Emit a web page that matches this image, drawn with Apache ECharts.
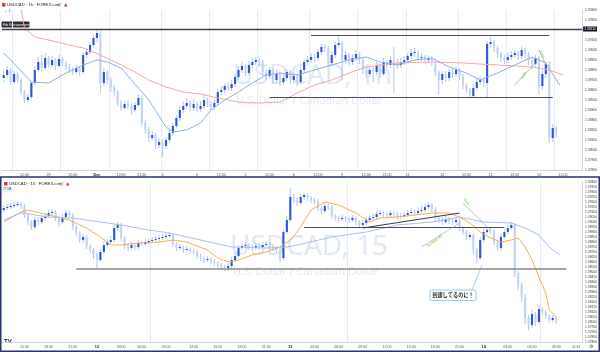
<!DOCTYPE html>
<html><head><meta charset="utf-8">
<script src="https://cdn.jsdelivr.net/npm/echarts@6/dist/echarts.min.js"></script>
<style>html,body{margin:0;padding:0;background:#fff}#c{width:600px;height:352px}</style>
</head><body><div id="c"></div><script>
// ---------- DATA ----------
const N_CAT = 168;
const topOpen0 = 1.3872;
const topClose = [
1.3875,1.3880,1.3868,1.3876,1.3870,1.3858,1.3850,1.3853,1.3867,1.3880,
1.3888,1.3882,1.3892,1.3885,1.3890,1.3884,1.3891,1.3887,1.3883,1.3880,
1.3878,1.3882,1.3878,1.3895,1.3898,1.3905,1.3912,1.3917,1.3867,1.3878,
1.3870,1.3862,1.3858,1.3847,1.3842,1.3846,1.3844,1.3840,1.3845,1.3852,
1.3827,1.3820,1.3812,1.3815,1.3805,1.3808,1.3804,1.3810,1.3817,1.3824,
1.3832,1.3840,1.3844,1.3847,1.3842,1.3846,1.3841,1.3844,1.3850,1.3846,
1.3843,1.3847,1.3858,1.3860,1.3864,1.3862,1.3866,1.3873,1.3880,1.3884,
1.3877,1.3885,1.3888,1.3890,1.3888,1.3878,1.3874,1.3880,1.3870,1.3876,
1.3868,1.3872,1.3878,1.3870,1.3874,1.3868,1.3880,1.3888,1.3890,1.3893,
1.3892,1.3898,1.3903,1.3902,1.3887,1.3895,1.3905,1.3907,1.3890,1.3895,
1.3888,1.3892,1.3896,1.3890,1.3880,1.3876,1.3880,1.3878,1.3884,1.3876,
1.3888,1.3885,1.3890,1.3887,1.3885,1.3888,1.3890,1.3894,1.3897,1.3898,
1.3892,1.3893,1.3890,1.3892,1.3888,1.3878,1.3870,1.3876,1.3872,1.3878,
1.3876,1.3880,1.3874,1.3865,1.3860,1.3854,1.3862,1.3868,1.3870,1.3867,
1.3906,1.3908,1.3902,1.3896,1.3892,1.3890,1.3893,1.3895,1.3897,1.3894,
1.3900,1.3896,1.3890,1.3886,1.3892,1.3864,1.3876,1.3886,1.3812,1.3822,
1.3817];
const topHigh = [
1.3879,1.3884,1.3882,1.3879,1.3878,1.3872,1.3860,1.3856,1.3869,1.3884,
1.3893,1.3895,1.3897,1.3894,1.3894,1.3892,1.3895,1.3893,1.3889,1.3886,
1.3883,1.3885,1.3884,1.3898,1.3902,1.3908,1.3915,1.3921,1.3919,1.3882,
1.3880,1.3873,1.3865,1.3860,1.3850,1.3849,1.3850,1.3847,1.3848,1.3856,
1.3855,1.3830,1.3823,1.3819,1.3817,1.3812,1.3811,1.3813,1.3820,1.3827,
1.3835,1.3844,1.3849,1.3852,1.3850,1.3851,1.3848,1.3849,1.3856,1.3853,
1.3849,1.3851,1.3861,1.3864,1.3867,1.3868,1.3870,1.3876,1.3884,1.3888,
1.3886,1.3889,1.3892,1.3893,1.3892,1.3890,1.3881,1.3883,1.3882,1.3880,
1.3878,1.3876,1.3881,1.3880,1.3878,1.3877,1.3883,1.3891,1.3894,1.3897,
1.3896,1.3901,1.3906,1.3906,1.3904,1.3899,1.3908,1.3913,1.3909,1.3899,
1.3897,1.3896,1.3900,1.3898,1.3892,1.3883,1.3884,1.3883,1.3888,1.3886,
1.3892,1.3890,1.3894,1.3903,1.3891,1.3892,1.3894,1.3897,1.3901,1.3902,
1.3900,1.3897,1.3895,1.3895,1.3894,1.3890,1.3880,1.3879,1.3879,1.3881,
1.3882,1.3884,1.3882,1.3876,1.3867,1.3862,1.3866,1.3872,1.3874,1.3873,
1.3909,1.3913,1.3910,1.3904,1.3898,1.3895,1.3897,1.3899,1.3900,1.3899,
1.3904,1.3902,1.3898,1.3892,1.3895,1.3894,1.3880,1.3888,1.3889,1.3826,
1.3824];
const topLow = [
1.3868,1.3872,1.3865,1.3866,1.3867,1.3855,1.3847,1.3848,1.3851,1.3865,
1.3878,1.3879,1.3880,1.3882,1.3883,1.3880,1.3882,1.3884,1.3880,1.3877,
1.3875,1.3876,1.3874,1.3876,1.3892,1.3896,1.3902,1.3908,1.3857,1.3864,
1.3866,1.3858,1.3854,1.3844,1.3839,1.3840,1.3841,1.3836,1.3838,1.3843,
1.3824,1.3816,1.3808,1.3809,1.3801,1.3802,1.3793,1.3801,1.3807,1.3814,
1.3821,1.3829,1.3837,1.3841,1.3839,1.3839,1.3838,1.3838,1.3841,1.3843,
1.3840,1.3840,1.3845,1.3855,1.3857,1.3859,1.3859,1.3863,1.3870,1.3877,
1.3874,1.3875,1.3882,1.3885,1.3884,1.3874,1.3870,1.3871,1.3866,1.3867,
1.3864,1.3865,1.3869,1.3866,1.3867,1.3864,1.3866,1.3877,1.3885,1.3887,
1.3888,1.3889,1.3895,1.3898,1.3884,1.3884,1.3892,1.3902,1.3870,1.3886,
1.3884,1.3885,1.3889,1.3886,1.3876,1.3872,1.3873,1.3868,1.3875,1.3872,
1.3874,1.3881,1.3882,1.3857,1.3881,1.3882,1.3885,1.3887,1.3891,1.3893,
1.3889,1.3889,1.3886,1.3887,1.3884,1.3874,1.3855,1.3866,1.3868,1.3869,
1.3872,1.3873,1.3870,1.3861,1.3857,1.3853,1.3853,1.3860,1.3865,1.3863,
1.3853,1.3902,1.3898,1.3892,1.3888,1.3886,1.3887,1.3890,1.3892,1.3890,
1.3891,1.3892,1.3885,1.3881,1.3883,1.3855,1.3860,1.3872,1.3807,1.3808,
1.3813];

const botOpen0 = 1.3912;
const botClose = [
1.3914,1.3915,1.3916,1.3917,1.3918,1.3916,1.3907,1.3900,1.3895,1.3902,
1.3900,1.3904,1.3906,1.3909,1.3910,1.3904,1.3900,1.3905,1.3909,1.3907,
1.3895,1.3889,1.3882,1.3885,1.3876,1.3872,1.3867,1.3862,1.3870,1.3877,
1.3880,1.3882,1.3894,1.3897,1.3884,1.3876,1.3874,1.3877,1.3875,1.3879,
1.3878,1.3880,1.3881,1.3882,1.3883,1.3884,1.3885,1.3886,1.3887,1.3878,
1.3874,1.3875,1.3872,1.3873,1.3871,1.3870,1.3866,1.3864,1.3862,1.3863,
1.3861,1.3859,1.3857,1.3855,1.3854,1.3856,1.3862,1.3866,1.3874,1.3876,
1.3877,1.3875,1.3874,1.3876,1.3875,1.3877,1.3878,1.3876,1.3874,1.3872,
1.3864,1.3890,1.3902,1.3925,1.3922,1.3919,1.3925,1.3927,1.3924,1.3922,
1.3921,1.3914,1.3911,1.3916,1.3915,1.3906,1.3904,1.3903,1.3904,1.3903,
1.3902,1.3904,1.3900,1.3897,1.3899,1.3902,1.3904,1.3905,1.3908,1.3909,
1.3908,1.3907,1.3909,1.3908,1.3905,1.3906,1.3907,1.3909,1.3910,1.3909,
1.3911,1.3912,1.3915,1.3917,1.3913,1.3904,1.3902,1.3900,1.3903,1.3901,
1.3900,1.3902,1.3894,1.3890,1.3885,1.3887,1.3872,1.3864,1.3882,1.3890,
1.3892,1.3891,1.3880,1.3874,1.3885,1.3890,1.3894,1.3897,1.3849,1.3837,
1.3825,1.3804,1.3797,1.3808,1.3800,1.3813,1.3810,1.3806,1.3802,1.3804,
1.3801];
const botHigh = [
1.3917,1.3918,1.3919,1.3920,1.3921,1.3920,1.3918,1.3909,1.3902,1.3905,
1.3905,1.3907,1.3909,1.3912,1.3913,1.3912,1.3906,1.3908,1.3912,1.3911,
1.3909,1.3897,1.3891,1.3888,1.3887,1.3878,1.3874,1.3869,1.3873,1.3880,
1.3883,1.3886,1.3897,1.3900,1.3899,1.3886,1.3879,1.3880,1.3879,1.3882,
1.3881,1.3883,1.3884,1.3885,1.3886,1.3887,1.3888,1.3889,1.3890,1.3889,
1.3880,1.3878,1.3877,1.3876,1.3875,1.3873,1.3872,1.3868,1.3866,1.3866,
1.3865,1.3863,1.3861,1.3859,1.3857,1.3859,1.3865,1.3869,1.3877,1.3879,
1.3880,1.3879,1.3878,1.3879,1.3879,1.3880,1.3881,1.3880,1.3878,1.3876,
1.3874,1.3893,1.3906,1.3934,1.3928,1.3925,1.3928,1.3929,1.3929,1.3926,
1.3924,1.3923,1.3916,1.3919,1.3918,1.3917,1.3908,1.3906,1.3907,1.3906,
1.3905,1.3907,1.3906,1.3902,1.3902,1.3905,1.3907,1.3908,1.3911,1.3912,
1.3911,1.3910,1.3912,1.3911,1.3910,1.3909,1.3910,1.3912,1.3914,1.3913,
1.3915,1.3916,1.3918,1.3920,1.3919,1.3915,1.3906,1.3905,1.3906,1.3905,
1.3904,1.3905,1.3904,1.3896,1.3892,1.3890,1.3889,1.3874,1.3885,1.3893,
1.3895,1.3894,1.3893,1.3882,1.3888,1.3893,1.3897,1.3900,1.3899,1.3851,
1.3840,1.3828,1.3807,1.3812,1.3810,1.3816,1.3815,1.3812,1.3808,1.3807,
1.3806];
const botLow = [
1.3910,1.3912,1.3913,1.3914,1.3915,1.3913,1.3904,1.3897,1.3892,1.3893,
1.3897,1.3898,1.3902,1.3904,1.3906,1.3901,1.3895,1.3898,1.3903,1.3904,
1.3892,1.3886,1.3879,1.3879,1.3873,1.3869,1.3863,1.3854,1.3860,1.3868,
1.3875,1.3878,1.3880,1.3891,1.3881,1.3873,1.3871,1.3872,1.3872,1.3873,
1.3876,1.3876,1.3878,1.3879,1.3880,1.3881,1.3882,1.3883,1.3884,1.3875,
1.3871,1.3872,1.3869,1.3870,1.3868,1.3867,1.3863,1.3861,1.3859,1.3860,
1.3858,1.3856,1.3854,1.3852,1.3851,1.3851,1.3854,1.3860,1.3864,1.3872,
1.3873,1.3872,1.3871,1.3872,1.3872,1.3873,1.3875,1.3873,1.3871,1.3869,
1.3860,1.3862,1.3888,1.3900,1.3919,1.3916,1.3917,1.3922,1.3921,1.3919,
1.3918,1.3911,1.3908,1.3909,1.3912,1.3903,1.3901,1.3900,1.3901,1.3900,
1.3899,1.3900,1.3897,1.3894,1.3895,1.3897,1.3900,1.3902,1.3903,1.3906,
1.3905,1.3904,1.3905,1.3905,1.3902,1.3903,1.3904,1.3905,1.3907,1.3906,
1.3907,1.3909,1.3910,1.3913,1.3910,1.3901,1.3899,1.3897,1.3898,1.3898,
1.3897,1.3898,1.3891,1.3887,1.3882,1.3882,1.3868,1.3859,1.3862,1.3880,
1.3888,1.3888,1.3877,1.3871,1.3872,1.3883,1.3888,1.3892,1.3845,1.3832,
1.3820,1.3798,1.3792,1.3794,1.3796,1.3798,1.3807,1.3803,1.3799,1.3800,
1.3798];

// moving averages: [candle index, price]
const topMaBlue = [[0,1.3897],[2,1.3890],[8,1.3868],[13,1.3867],[18,1.3877],[23,1.3885],[27,1.3890],[30,1.3888],[34,1.3882],[37,1.3870],[42,1.3850],[47,1.3823],[49,1.3818],[53,1.3820],[57,1.3827],[60,1.3840],[64,1.3850],[68,1.3858],[72,1.3867],[76,1.3875],[80,1.3877],[85,1.3875],[90,1.3880],[95,1.3885],[100,1.3890],[105,1.3893],[109,1.3888],[114,1.3885],[119,1.3890],[124,1.3892],[129,1.3883],[134,1.3877],[138,1.3870],[143,1.3877],[148,1.3885],[153,1.3893],[157,1.3887],[161,1.3865]];
const topMaRed = [[5,1.3942],[6,1.3922],[9,1.3913],[13,1.3910],[19,1.3905],[23,1.3902],[28,1.3895],[31,1.3890],[34,1.3885],[38,1.3878],[42,1.3870],[47,1.3863],[52,1.3858],[57,1.3856],[62,1.3852],[68,1.3848],[74,1.3847],[80,1.3848],[85,1.3857],[90,1.3865],[95,1.3870],[100,1.3877],[105,1.3883],[109,1.3885],[114,1.3887],[124,1.3888],[133,1.3887],[143,1.3885],[153,1.3883],[158,1.3880],[162,1.3875]];
const botMaOrange = [[0,1.3900],[5,1.3910],[7,1.3912],[13,1.3907],[19,1.3902],[24,1.3894],[28,1.3885],[31,1.3877],[34,1.3877],[39,1.3879],[45,1.3880],[49,1.3882],[53,1.3880],[59,1.3872],[62,1.3864],[65,1.3860],[68,1.3862],[72,1.3867],[76,1.3870],[80,1.3875],[83,1.3882],[85,1.3890],[89,1.3912],[93,1.3920],[97,1.3917],[102,1.3909],[106,1.3900],[109,1.3904],[114,1.3905],[119,1.3907],[124,1.3909],[129,1.3909],[132,1.3905],[135,1.3899],[138,1.3890],[141,1.3884],[144,1.3880],[147,1.3882],[149,1.3884],[151,1.3875],[153,1.3862],[155,1.3845],[157,1.3829],[158,1.3812],[160,1.3805]];
const botMaBlue = [[0,1.3902],[5,1.3909],[13,1.3905],[20,1.3904],[28,1.3900],[34,1.3897],[42,1.3892],[48,1.3889],[57,1.3882],[66,1.3875],[76,1.3874],[82,1.3875],[85,1.3877],[95,1.3885],[105,1.3890],[114,1.3897],[124,1.3900],[132,1.3905],[139,1.3900],[147,1.3899],[151,1.3894],[155,1.3887],[158,1.3875],[161,1.3867]];

// time-axis ticks
const topTickIdx = [6,13,20,27,34,40,46,56,63,70,77,84,91,98,105,111,117,127,134,141,148,155,162];
const topTickText = ['12:00','29','12:00','Dec','12:00','21:00','3','4','12:00','5','12:00','6','12:00','9','12:00','21:00','11','12','12:00','13','12:00','14','12:00'];
const botTickIdx = [6,13,20,27,34,40,47,55,62,69,76,83,90,97,104,111,118,125,132,139,146,153,160];
const botTickText = ['15:00','18:00','21:00','12','03:00','06:00','09:00','12:00','15:00','18:00','21:00','13','03:00','06:00','09:00','12:00','15:00','18:00','21:00','14','03:00','06:00','09:00'];
const topBold = ['Dec'];
const botBold = ['12','13','14'];
const topDayLines = [3,17,31,46,60,74,89,103,117,132,146,160];
const botDayLines = [43,100,156];

// ---------- BUILD ----------
function buildCats(idx, txt){ const a = new Array(N_CAT).fill(''); idx.forEach((k,j)=>{a[k]=txt[j];}); return a; }
function buildCandles(o0, close, high, low){ return close.map((c,i)=>[i, i===0?o0:close[i-1], c, low[i], high[i]]); }

const UP='#2f56d6', DOWN='#c3d4f3', WICK='#b3c7ef';
function renderCandle(params, api){
  const x = api.value(0), o = api.value(1), c = api.value(2), l = api.value(3), h = api.value(4);
  const pO = api.coord([x,o]), pC = api.coord([x,c]), pL = api.coord([x,l]), pH = api.coord([x,h]);
  const w = api.size([1,0])[0]*0.62;
  const up = c >= o;
  const top = Math.min(pO[1],pC[1]);
  return {type:'group', children:[
    {type:'line', shape:{x1:pH[0],y1:pH[1],x2:pL[0],y2:pL[1]}, style:{stroke:WICK, lineWidth:1}},
    {type:'rect', shape:{x:pO[0]-w/2, y:top, width:w, height:Math.max(0.8,Math.abs(pO[1]-pC[1]))}, style:{fill: up?UP:DOWN}}
  ]};
}
const FONT = 'Liberation Sans';
function xAx(gi, cats, bold, days){
  return {type:'category', gridIndex:gi, data:cats, boundaryGap:true,
    axisLine:{lineStyle:{color:'#cfd3dc', width:1}}, axisTick:{show:false},
    axisLabel:{interval:0, fontSize:3.6, color:'#555', margin:2.5, fontFamily:FONT,
      formatter:v=> bold.includes(v) ? '{b|'+v+'}' : v,
      rich:{b:{fontWeight:'bold', fontSize:3.8, color:'#222', fontFamily:FONT}}},
    splitLine:{show:true, interval:(i)=>days.includes(i), lineStyle:{color:'#e4eaf7', width:1}}};
}
function yAx(gi, min, max, interval){
  return {type:'value', gridIndex:gi, position:'right', min, max, interval,
    axisLine:{show:true, lineStyle:{color:'#cfd3dc'}}, axisTick:{show:false},
    axisLabel:{fontSize:3.3, color:'#444', margin:3, fontFamily:FONT, formatter:v=>v.toFixed(5)},
    splitLine:{show:false}};
}
const noSym = ['none','none'];
function seg(a,b,c,d){ return [{coord:[a,b]},{coord:[c,d]}]; }
function lineMA(name, data, color, xi, ml){
  const s = {type:'line', name, data, xAxisIndex:xi, yAxisIndex:xi, showSymbol:false, symbol:'none',
    lineStyle:{color, width:1}, silent:true, z:3};
  if (ml) s.markLine = ml;
  return s;
}
const lastLbl = (val, txt, dy)=>({yAxis:val, lineStyle:{width:0, opacity:0},
  label:{show:true, position:'end', distance:1, formatter:txt, backgroundColor:'#8a8e99', color:'#fff',
    fontSize:3.2, padding:[1,1.2], lineHeight:4, fontFamily:FONT, offset:[0,dy]}});

const option = {
  animation:false,
  backgroundColor:'#ffffff',
  grid:[{left:2, right:15, top:10, height:160}, {left:2, right:15, top:182, height:160}],
  xAxis:[xAx(0, buildCats(topTickIdx, topTickText), topBold, topDayLines), xAx(1, buildCats(botTickIdx, botTickText), botBold, botDayLines)],
  yAxis:[yAx(0, 1.378, 1.394, 0.001), yAx(1, 1.378, 1.394, 0.0005)],
  series:[
    {type:'custom', renderItem:renderCandle, data:buildCandles(topOpen0, topClose, topHigh, topLow), xAxisIndex:0, yAxisIndex:0, encode:{x:0, y:[1,2,3,4]}, z:2, silent:true},
    {type:'custom', renderItem:renderCandle, data:buildCandles(botOpen0, botClose, botHigh, botLow), xAxisIndex:1, yAxisIndex:1, encode:{x:0, y:[1,2,3,4]}, z:2, silent:true},
    lineMA('topRed', topMaRed, '#f3aaa2', 0),
    lineMA('topBlue', topMaBlue, '#8fb0ea', 0, {silent:true, precision:5, symbol:noSym, label:{show:false}, data:[
      {yAxis:1.3921, lineStyle:{color:'#3c3f48', width:1.3, type:'solid'},
        label:{show:true, position:'end', distance:1, formatter:'1.39210', backgroundColor:'#131722', color:'#fff', fontSize:3.2, padding:[1,1.2], fontFamily:FONT}},
      seg(89,1.3915,158,1.3915),
      seg(77,1.3853,159,1.3853),
      seg(148,1.3865,154,1.3887),
      seg(155,1.3900,157,1.3885),
      lastLbl(1.3817, '1.38170\n43:17', 3)
    ].map((d,i)=>{ if(Array.isArray(d)){ d[0].lineStyle = {color: i>=3?'#9a9a9a':'#4a4d55', width: i>=3?0.7:1.1, type:'solid'}; } return d; })}),
    lineMA('botOrange', botMaOrange, '#f2b24c', 1),
    lineMA('botBlue', botMaBlue, '#a9c0ec', 1, {silent:true, precision:5, symbol:noSym, label:{show:false}, data:[
      seg(21,1.3853,163,1.3853),
      seg(87,1.3895,145,1.3895),
      seg(104,1.3894,132,1.3909),
      seg(121,1.3875,132,1.3899),
      seg(133,1.3919,141,1.3892),
      lastLbl(1.3801, '1.38010\n13:17', 0)
    ].map((d,i)=>{ if(Array.isArray(d)){ const st = [
        {color:'#8a8a8a', width:1.6}, {color:'#4a4d55', width:1.1}, {color:'#3a3d45', width:1.1},
        {color:'#a8a8a8', width:0.7}, {color:'#a8a8a8', width:0.7}][i]; d[0].lineStyle = Object.assign({type:'solid'}, st); } return d; })})
  ],
  graphic:[
    // watermarks
    {type:'text', left:233, top:62, z:0, silent:true, style:{text:'USDCAD, 1h', font:'28px "Noto Sans"', fill:'rgba(120,150,215,0.22)'}},
    {type:'text', left:236, top:95, z:0, silent:true, style:{text:'U.S. Dollar / Canadian Dollar', font:'11px "Noto Sans"', fill:'rgba(120,150,215,0.22)'}},
    {type:'text', left:230, top:233, z:0, silent:true, style:{text:'USDCAD, 15', font:'28px "Noto Sans"', fill:'rgba(120,150,215,0.22)'}},
    {type:'text', left:233, top:266, z:0, silent:true, style:{text:'U.S. Dollar / Canadian Dollar', font:'11px "Noto Sans"', fill:'rgba(120,150,215,0.22)'}},
    // top header
    {type:'rect', shape:{x:2, y:3, width:3.5, height:3.5}, style:{fill:'#c9413d'}},
    {type:'text', left:7, top:2.5, style:{text:'USDCAD · 1h · FOREX.com', font:'4.2px "Liberation Sans"', fill:'#222'}},
    {type:'text', left:58, top:2.5, style:{text:'◫', font:'4.2px "DejaVu Sans"', fill:'#888'}},
    {type:'text', left:64, top:2, style:{text:'▲', font:'4.5px "DejaVu Sans"', fill:'#c24a3f'}},
    {type:'text', left:4, top:9, style:{text:'⌄ 1', font:'3.8px "DejaVu Sans"', fill:'#444'}},
    {type:'rect', shape:{x:1.5, y:21.5, width:28, height:6, r:1}, style:{fill:'#2a2e39'}},
    {type:'text', left:3, top:22.6, style:{text:'Fib Retracement', font:'3.6px "Liberation Sans"', fill:'#fff'}},
    // top annotation labels
    {type:'text', x:520, y:78, rotation:1.05, style:{text:'3.96', font:'4px "Liberation Sans"', fill:'#5ed13a'}},
    {type:'text', x:542, y:50, rotation:-1.15, style:{text:'62%', font:'4px "Liberation Sans"', fill:'#5ed13a'}},
    // panel separator / frame
    {type:'rect', shape:{x:0.75, y:177, width:598.5, height:174.2}, style:{fill:'none', stroke:'#27356b', lineWidth:1.5}, z:50},
    // bottom header
    {type:'rect', shape:{x:4, y:182, width:3.5, height:3.5}, style:{fill:'#c9413d'}},
    {type:'text', left:9, top:181.5, style:{text:'USDCAD · 15 · FOREX.com', font:'4.2px "Liberation Sans"', fill:'#222'}},
    {type:'text', left:60, top:181.5, style:{text:'◫', font:'4.2px "DejaVu Sans"', fill:'#888'}},
    {type:'text', left:66, top:181, style:{text:'▲', font:'4.5px "DejaVu Sans"', fill:'#c24a3f'}},
    {type:'rect', shape:{x:3, y:187, width:9, height:5, r:0.8}, style:{fill:'#f0f1f4', stroke:'#d5d8de', lineWidth:0.5}},
    {type:'text', left:4, top:187.6, style:{text:'T 1B', font:'3.4px "Liberation Sans"', fill:'#444'}},
    // bottom annotations
    {type:'text', x:426, y:245, rotation:0.65, style:{text:'Sunday 00', font:'3.8px "Liberation Sans"', fill:'#5ed13a'}},
    {type:'text', x:466, y:198, rotation:-1.0, style:{text:'50%', font:'3.8px "Liberation Sans"', fill:'#5ed13a'}},
    {type:'line', shape:{x1:472, y1:290, x2:482, y2:265}, style:{stroke:'#8cc6ef', lineWidth:0.8}},
    {type:'rect', shape:{x:430, y:290, width:46, height:10.5, r:1.5}, style:{fill:'#fff', stroke:'#7fc0ec', lineWidth:0.8}, z:20},
    {type:'text', x:453, y:295.3, z:21, style:{text:'到達してるのに！', font:'bold 5.2px "Noto Sans CJK JP"', fill:'#222', align:'center', verticalAlign:'middle'}},
    // logo & corner
    {type:'text', left:4, top:338, style:{text:'TV', font:'bold 6px "Liberation Sans"', fill:'#131722'}},
    {type:'text', left:572, top:345.3, z:60, style:{text:'11:31', font:'3.4px "Liberation Sans"', fill:'#555'}},
    {type:'text', left:589, top:344.5, z:60, style:{text:'⚙', font:'5px "DejaVu Sans"', fill:'#555'}}
  ]
};
const chart = echarts.init(document.getElementById('c'), null, {renderer:'canvas'});
chart.setOption(option);
</script></body></html>
